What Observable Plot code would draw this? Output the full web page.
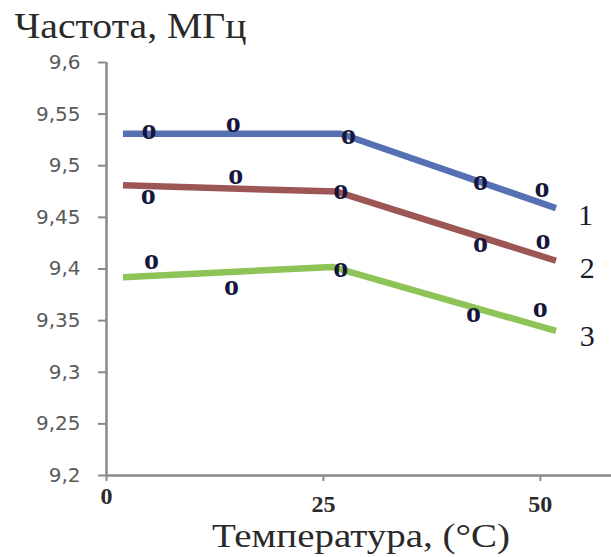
<!DOCTYPE html>
<html>
<head>
<meta charset="utf-8">
<script src="https://cdn.jsdelivr.net/npm/d3@7"></script>
<script src="https://cdn.jsdelivr.net/npm/@observablehq/plot@0.6"></script>
<style>
  html, body { margin: 0; padding: 0; background: #fff; }
  #chart svg { display: block; }
</style>
</head>
<body>
<div id="chart"></div>
<script>
// ---- data ----
const yTitle = "Частота, МГц";
const xTitle = "Температура, (°C)";
const xTicksFirst = [0];
const xTicksRest = [25, 50];
const yTicks = [9.2, 9.25, 9.3, 9.35, 9.4, 9.45, 9.5, 9.55, 9.6];
const seriesNames = ["1", "2", "3"];
const seriesColors = ["#5571b3", "#9d5656", "#8dc357"];

// fitted lines (temperature, frequency)
const line1 = [[1.9, 9.531], [27, 9.531], [51.8, 9.459]];
const line2 = [[1.9, 9.481], [26.5, 9.475], [51.8, 9.408]];
const line3 = [[1.9, 9.392], [26, 9.402], [51.8, 9.340]];

// measured points
const pts1 = [[4.9, 9.532], [14.6, 9.539], [27.9, 9.527], [43.1, 9.483], [50.2, 9.476]];
const pts2 = [[4.8, 9.469], [14.9, 9.489], [27.0, 9.474], [43.1, 9.423], [50.3, 9.426]];
const pts3 = [[5.2, 9.406], [14.4, 9.381], [27.0, 9.399], [42.3, 9.355], [50.0, 9.360]];

// series labels at right end
const labelX = [55.2, 55.4, 55.4];
const labelY = [9.452, 9.401, 9.335];

// ---- build tables ----
const lines = [line1, line2, line3].flatMap((l, i) => l.map(([x, y]) => ({x, y, s: seriesNames[i]})));
const points = [pts1, pts2, pts3].flatMap((l, i) => l.map(([x, y]) => ({x, y, s: seriesNames[i]})));
const labels = seriesNames.map((s, i) => ({x: labelX[i], y: labelY[i], s}));

const fmt = d => String(+d.toFixed(2)).replace(".", ",");
const axisColor = "#8a8a8a";

const chart = Plot.plot({
  width: 611,
  height: 557,
  marginLeft: 106,
  marginRight: 0,
  marginTop: 62,
  marginBottom: 82,
  style: {background: "#fff", fontFamily: "DejaVu Sans", fontSize: "20px"},
  x: {domain: [0, 58.2]},
  y: {domain: [9.2, 9.6]},
  color: {domain: seriesNames, range: seriesColors},
  marks: [
    Plot.axisY({ticks: yTicks, tickFormat: fmt, tickSize: 8, tickPadding: 18, label: null,
      stroke: axisColor, strokeWidth: 2, fill: "#5a5a5a",
      fontSize: 20, fontFamily: "DejaVu Sans"}),
    Plot.axisX({ticks: xTicksFirst, tickSize: 6, tickPadding: 5, label: null,
      stroke: axisColor, strokeWidth: 2, fill: "#2a2a2a",
      fontSize: 24, fontWeight: "bold", fontFamily: "Liberation Serif"}),
    Plot.axisX({ticks: xTicksRest, tickSize: 6, tickPadding: 13, label: null,
      stroke: axisColor, strokeWidth: 2, fill: "#2a2a2a",
      fontSize: 24, fontWeight: "bold", fontFamily: "Liberation Serif"}),
    Plot.ruleX([0], {stroke: axisColor, strokeWidth: 2.5}),
    Plot.ruleY([9.2], {stroke: axisColor, strokeWidth: 2.5}),
    Plot.line(lines, {x: "x", y: "y", z: "s", stroke: "s", strokeWidth: 6.5, strokeLinecap: "butt", strokeLinejoin: "round"}),
    Plot.text(points, {x: "x", y: "y", text: () => "o", fill: "#16163c",
      fontSize: 30, fontWeight: "bold", fontFamily: "Liberation Serif", dy: -3}),
    Plot.text(labels, {x: "x", y: "y", text: "s", fill: "#1a1a2a",
      fontSize: 30, fontFamily: "Liberation Serif", textAnchor: "middle"}),
    Plot.text([yTitle], {frameAnchor: "top-left", lineAnchor: "middle", text: d => d, dx: -92, dy: -36.5,
      fontSize: 36, fontFamily: "Liberation Serif", fill: "#2a2a2a", textAnchor: "start"}),
    Plot.text([xTitle], {frameAnchor: "bottom", lineAnchor: "middle", text: d => d, dx: 2, dy: 61,
      fontSize: 34, fontFamily: "Liberation Serif", fill: "#2a2a2a"})
  ]
});
// stretch titles horizontally to match the reference widths
d3.select(chart).selectAll("text").each(function () {
  const t = this.textContent;
  if (t === yTitle) d3.select(this).attr("textLength", 232).attr("lengthAdjust", "spacingAndGlyphs");
  if (t === xTitle) d3.select(this).attr("textLength", 298).attr("lengthAdjust", "spacingAndGlyphs");
});
document.getElementById("chart").append(chart);
</script>
</body>
</html>
